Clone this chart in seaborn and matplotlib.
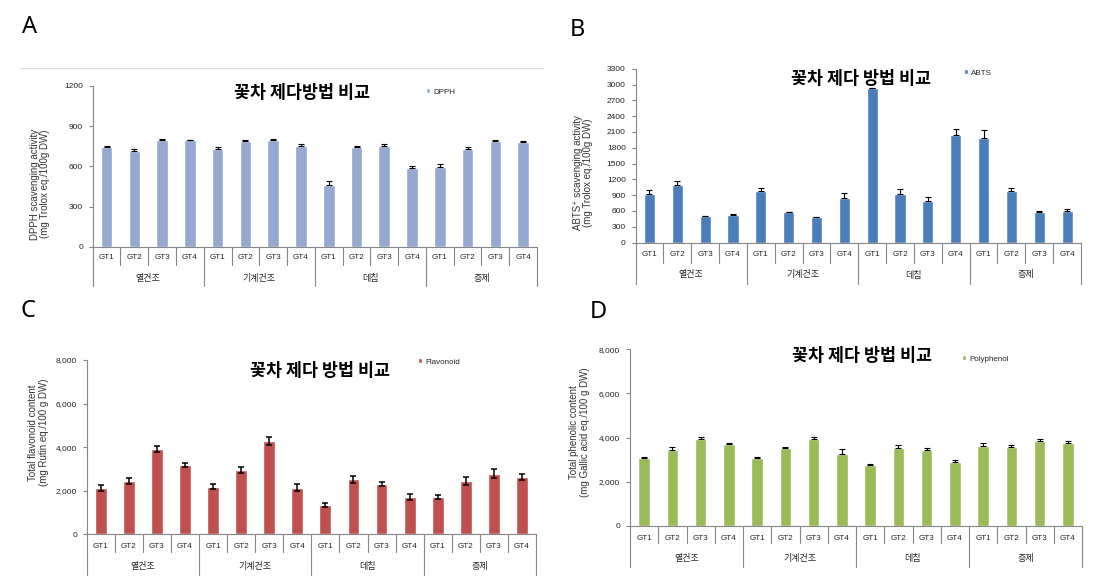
import matplotlib
matplotlib.use('Agg')
import matplotlib.pyplot as plt
from matplotlib.patches import Patch
from matplotlib.lines import Line2D
from matplotlib.ticker import FuncFormatter
import numpy as np
import pandas as pd
import seaborn as sns

# processing methods (groups) and tea samples
methods = ['열건조', '기계건조', '데침', '증제']
samples = ['GT1', 'GT2', 'GT3', 'GT4']

# A - DPPH (mg Trolox eq./100g DW)
dpph = [744, 714, 798, 794, 729, 791, 798, 752, 460, 742, 754, 587, 592, 729, 789, 783]
dpph_err = [10, 12, 3, 3, 12, 3, 3, 15, 30, 10, 10, 17, 22, 12, 5, 4]

# B - ABTS (mg Trolox eq./100g DW)
abts = [921, 1091, 498, 530, 978, 574, 480, 839, 2940, 921, 789, 2050, 1981, 984, 580, 600]
abts_err = [82, 69, 10, 12, 50, 6, 5, 107, 0, 88, 76, 114, 158, 50, 12, 45]

# C - total flavonoid (mg Rutin eq./100 g DW)
flav = [2126, 2447, 3916, 3166, 2187, 2952, 4283, 2126, 1346, 2524, 2294, 1713, 1713, 2463, 2784, 2626]
flav_err = [138, 122, 153, 84, 107, 153, 168, 161, 76, 168, 92, 145, 99, 184, 191, 153]

# D - total phenolic (mg Gallic acid eq./100 g DW)
poly = [3064, 3426, 3925, 3728, 3079, 3517, 3925, 3260, 2762, 3517, 3426, 2898, 3638, 3562, 3864, 3736]
poly_err = [75, 135, 90, 30, 60, 75, 105, 240, 45, 165, 120, 90, 105, 90, 75, 105]

sns.set_style('white')
plt.rcParams['font.family'] = ['Liberation Sans', 'Noto Sans CJK KR', 'DejaVu Sans']
KR = ['Noto Sans CJK KR', 'DejaVu Sans']

W, H = 1113, 586
fig = plt.figure(figsize=(W / 100, H / 100), dpi=100)

keys = [m + ' ' + s for m in methods for s in samples]
gt_labels = samples * len(methods)
axis_grey = '#868686'


def px(x, y):
    return x / W, 1 - y / H


def panel(box, values, errors, color, ymax, step, width, two_sided, comma,
          gt_off, grp_off, gt_sep, grp_sep):
    left, top, right, bottom = box
    ax = fig.add_axes([left / W, 1 - bottom / H, (right - left) / W, (bottom - top) / H])
    ah = bottom - top
    df = pd.DataFrame({'key': keys, 'value': values})
    sns.barplot(data=df, x='key', y='value', color=color, width=width,
                saturation=1, errorbar=None, ax=ax)
    xs = ax.get_xticks()
    lower = errors if two_sided else [0] * len(errors)
    lw = 1.1 if two_sided else 0.8
    ax.errorbar(xs, values, yerr=[lower, errors], fmt='none', ecolor='black',
                elinewidth=lw, capsize=1.9, capthick=lw, zorder=3)
    ax.set_xlim(-0.5, len(keys) - 0.5)
    ax.set_ylim(0, ymax)
    ax.set_yticks(np.arange(0, ymax + 1, step))
    if comma:
        ax.yaxis.set_major_formatter(FuncFormatter(lambda v, p: f'{int(v):,}'))
    ax.set_xlabel('')
    ax.set_ylabel('')
    ax.set_xticks(xs, labels=[''] * len(xs))
    ax.tick_params(axis='x', length=0)
    ax.tick_params(axis='y', length=3, width=0.8, color=axis_grey, labelsize=6,
                   pad=4, labelcolor='#222222', left=True)
    for s in ['top', 'right']:
        ax.spines[s].set_visible(False)
    for s in ['left', 'bottom']:
        ax.spines[s].set_color(axis_grey)
        ax.spines[s].set_linewidth(0.8)
    tr = ax.get_xaxis_transform()
    # two-level category table under the axis
    for i, x in enumerate(xs):
        ax.text(x, -gt_off / ah, gt_labels[i], transform=tr, ha='center', va='center',
                fontsize=5.8, color='#222222')
    for j in range(len(keys) + 1):
        xb = j - 0.5
        length = grp_sep if j % len(samples) == 0 else gt_sep
        ax.plot([xb, xb], [0, -length / ah], transform=tr, color=axis_grey,
                lw=0.8, clip_on=False)
    for g, m in enumerate(methods):
        c = g * len(samples) + (len(samples) - 1) / 2
        ax.text(c, -grp_off / ah, m, transform=tr, ha='center', va='center',
                fontsize=6.5, family=KR, color='#222222')
    return ax


def add_legend(ax, color, label, x, y):
    ax.legend(handles=[Patch(facecolor=color, label=label)], loc='center left',
              bbox_to_anchor=px(x, y), bbox_transform=fig.transFigure,
              frameon=False, fontsize=5.8, handlelength=0.6, handleheight=0.6,
              handletextpad=0.35, borderpad=0, borderaxespad=0)


ax_a = panel((92.7, 86, 537, 246.7), dpph, dpph_err, '#95a8d0', 1200, 300, 0.42,
             False, False, 11, 31.5, 18.5, 39)
ax_b = panel((635.5, 68.7, 1081, 242.5), abts, abts_err, '#4a7ebb', 3300, 300, 0.40,
             False, False, 11.5, 32.5, 20.5, 41.5)
ax_c = panel((86.7, 360, 536, 534.3), flav, flav_err, '#c0504d', 8000, 2000, 0.42,
             True, True, 12, 32.4, 17.5, 41)
ax_d = panel((630, 349.3, 1082, 526), poly, poly_err, '#9bbb59', 8000, 2000, 0.40,
             False, True, 12.7, 32.7, 17, 41)

add_legend(ax_a, '#95a8d0', 'DPPH', 425.5, 92)
add_legend(ax_b, '#4a7ebb', 'ABTS', 963.5, 73)
add_legend(ax_c, '#c0504d', 'Flavonoid', 417.5, 362)
add_legend(ax_d, '#9bbb59', 'Polyphenol', 961.5, 359)

# titles
for (x, y), t in [((302, 93), '꽃차 제다방법 비교'), ((861, 79.5), '꽃차 제다 방법 비교'),
                  ((319.5, 371), '꽃차 제다 방법 비교'), ((862, 356), '꽃차 제다 방법 비교')]:
    fig.text(*px(x, y), t, ha='center', va='center', fontsize=12.5, fontweight='bold',
             family=KR, color='black')

# y axis labels
for (x, y), t in [((40, 184), 'DPPH scavenging activity\n(mg Trolox eq./100g DW)'),
                  ((583, 173), 'ABTS⁺ scavenging activity\n(mg Trolox eq./100g DW)'),
                  ((38.4, 432.5), 'Total flavonoid content\n(mg Rutin eq./100 g DW)'),
                  ((579.4, 431.7), 'Total phenolic content\n(mg Gallic acid eq./100 g DW)')]:
    fig.text(*px(x, y), t, rotation=90, ha='center', va='center', fontsize=7,
             linespacing=1.05, color='#333333')

# panel letters
for (x, y), t in [((29.5, 27), 'A'), ((577, 30), 'B'), ((28.3, 311), 'C'), ((598, 312), 'D')]:
    fig.text(*px(x, y), t, ha='center', va='center', fontsize=17, family='Noto Sans',
             color='black')

# faint chart frame line above panel A
fig.add_artist(Line2D([20 / W, 543 / W], [1 - 67.5 / H] * 2, color='#d9d9d9', lw=0.8))

fig.savefig('out.png', dpi=100)
